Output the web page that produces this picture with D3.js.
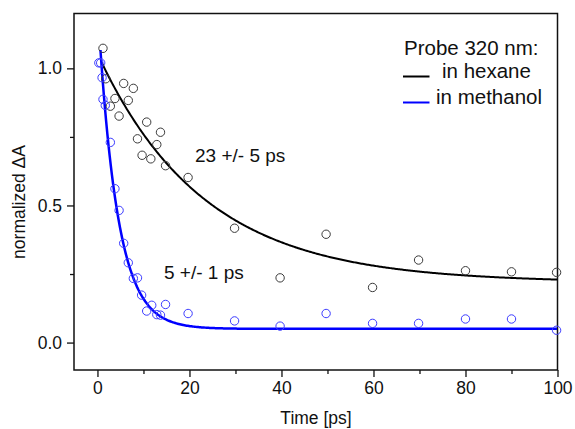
<!DOCTYPE html>
<html>
<head>
<meta charset="utf-8">
<script src="https://cdn.jsdelivr.net/npm/d3@7"></script>
<style>
  body { margin: 0; background: #fff; }
  svg { display: block; font-family: "Liberation Sans", Arial, sans-serif; }
  .tick text { font-size: 17.5px; fill: #111; }
</style>
</head>
<body>
<svg id="chart" width="575" height="429"></svg>
<script>
// measured points, hexane
const hexaneT = [1.2, 1.8, 2.8, 3.8, 4.7, 5.7, 6.7, 7.8, 8.7, 9.7, 10.7, 11.6, 12.9, 13.7, 14.8, 19.7, 29.8, 39.7, 49.7, 59.8, 69.8, 80, 90, 99.8]
const hexaneV = [1.073, 0.962, 0.862, 0.89, 0.826, 0.945, 0.883, 0.927, 0.743, 0.683, 0.804, 0.67, 0.722, 0.767, 0.645, 0.602, 0.417, 0.236, 0.395, 0.201, 0.301, 0.262, 0.258, 0.256]

// measured points, methanol
const methanolT = [0.3, 0.7, 1.0, 1.2, 1.7, 2.8, 3.8, 4.7, 5.7, 6.7, 7.8, 8.7, 9.6, 10.7, 11.8, 12.9, 13.7, 14.8, 19.7, 29.8, 39.7, 49.7, 59.8, 69.8, 80, 90, 99.8]
const methanolV = [1.02, 1.02, 0.966, 0.887, 0.865, 0.73, 0.561, 0.482, 0.362, 0.291, 0.234, 0.236, 0.173, 0.115, 0.136, 0.102, 0.1, 0.139, 0.106, 0.079, 0.06, 0.106, 0.07, 0.07, 0.086, 0.086, 0.045]

// mono-exponential fits: [amplitude, tau (ps), offset, start time]
const hexaneFit = [0.835, 23, 0.219, 0.9]
const methanolFit = [1.187, 4.2, 0.05, 0.65]

const xMajor = [0, 20, 40, 60, 80, 100]
const xMinor = [10, 30, 50, 70, 90]
const yMajor = [0, 0.5, 1.0]
const yMinor = [0.25, 0.75]

const svg = d3.select('#chart')

const margin = { left: 74, right: 557.5, top: 13.5, bottom: 370 }

const x = d3.scaleLinear().domain([-5.1, 100]).range([margin.left, margin.right])
const y = d3.scaleLinear().domain([-0.1, 1.2]).range([margin.bottom, margin.top])

// axes
const gx = svg.append('g').attr('transform', `translate(0,${margin.bottom})`)
gx.call(d3.axisBottom(x).tickValues(xMajor).tickSize(7).tickPadding(3).tickFormat(d3.format('d')))
gx.append('g').call(d3.axisBottom(x).tickValues(xMinor).tickSize(4).tickFormat(''))

const gy = svg.append('g').attr('transform', `translate(${margin.left},0)`)
gy.call(d3.axisLeft(y).tickValues(yMajor).tickSize(7).tickPadding(5).tickFormat(d3.format('.1f')))
gy.append('g').call(d3.axisLeft(y).tickValues(yMinor).tickSize(4).tickFormat(''))

svg.selectAll('.domain').remove()
svg.selectAll('.tick line').attr('stroke', '#111').attr('stroke-width', 1.3)
gx.selectAll('.tick text').attr('font-family', null).attr('font-size', null).attr('dy', '0.78em')
gy.selectAll('.tick text').attr('font-family', null).attr('font-size', null)

// frame
svg.append('rect')
	.attr('x', margin.left)
	.attr('y', margin.top)
	.attr('width', margin.right - margin.left)
	.attr('height', margin.bottom - margin.top)
	.attr('fill', 'none')
	.attr('stroke', '#111')
	.attr('stroke-width', 1.5)

// axis titles
svg.append('text')
	.attr('x', 316)
	.attr('y', 424)
	.attr('text-anchor', 'middle')
	.attr('font-size', 17.5)
	.attr('fill', '#111')
	.text('Time [ps]')

svg.append('text')
	.attr('transform', 'translate(25,202) rotate(-90)')
	.attr('text-anchor', 'middle')
	.attr('font-size', 17.5)
	.attr('fill', '#111')
	.text('normalized ΔA')

// fit curves
function fitCurve(p) {
	const [a, tau, c, t0] = p
	return d3.range(t0, 100.01, 0.25).map(t => [t, c + a * Math.exp(-t / tau)])
}

const line = d3.line().x(d => x(d[0])).y(d => y(d[1]))

svg.append('path')
	.datum(fitCurve(hexaneFit))
	.attr('d', line)
	.attr('fill', 'none')
	.attr('stroke', '#000')
	.attr('stroke-width', 2)

svg.append('path')
	.datum(fitCurve(methanolFit))
	.attr('d', line)
	.attr('fill', 'none')
	.attr('stroke', '#0000ff')
	.attr('stroke-width', 2.5)

// data points
function drawPoints(ts, vs, color) {
	svg.append('g')
		.selectAll('circle')
		.data(ts.map((t, i) => [t, vs[i]]))
		.join('circle')
		.attr('cx', d => x(d[0]))
		.attr('cy', d => y(d[1]))
		.attr('r', 4.2)
		.attr('fill', 'none')
		.attr('stroke', color)
		.attr('stroke-width', 1)
}

drawPoints(hexaneT, hexaneV, '#3a3a3a')
drawPoints(methanolT, methanolV, '#3c3cff')

// annotations
svg.append('text')
	.attr('x', 195)
	.attr('y', 162)
	.attr('font-size', 19)
	.attr('fill', '#111')
	.text('23 +/- 5 ps')

svg.append('text')
	.attr('x', 164)
	.attr('y', 279)
	.attr('font-size', 19)
	.attr('fill', '#111')
	.text('5 +/- 1 ps')

// legend
const legend = svg.append('g')
legend.append('text')
	.attr('x', 404)
	.attr('y', 55)
	.attr('font-size', 20.5)
	.attr('fill', '#111')
	.text('Probe 320 nm:')

const legendItems = [
	{ label: 'in hexane', color: '#000', tx: 442, y: 78 },
	{ label: 'in methanol', color: '#0000ff', tx: 436, y: 104 },
]

legendItems.forEach(d => {
	legend.append('line')
		.attr('x1', 403).attr('x2', 429.5)
		.attr('y1', d.y - 1.5).attr('y2', d.y - 1.5)
		.attr('stroke', d.color)
		.attr('stroke-width', 2)
	legend.append('text')
		.attr('x', d.tx)
		.attr('y', d.y)
		.attr('font-size', 20.5)
		.attr('fill', '#111')
		.text(d.label)
})
</script>
</body>
</html>
